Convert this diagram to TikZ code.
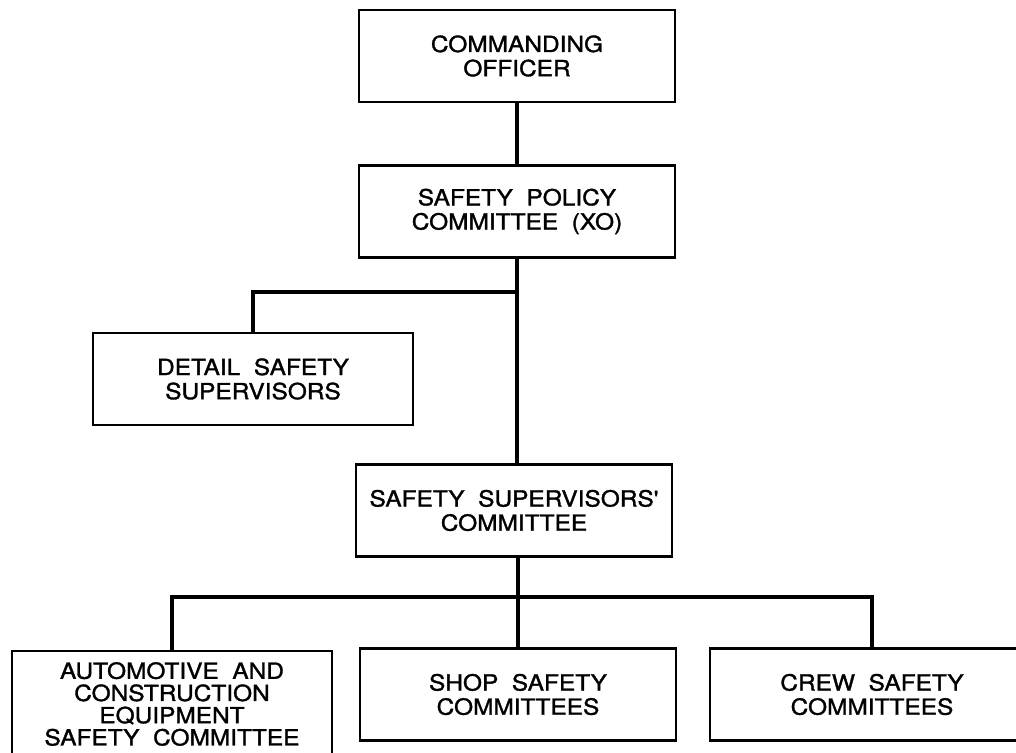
\documentclass[tikz,border=0pt]{standalone}
\usepackage{fontspec}
\newfontfamily\orgfont{TeX Gyre Heros}[FakeStretch=1.1,FakeBold=1.4]

\begin{document}
\begin{tikzpicture}
        [%%%%%%%%%%%%%%%%%%%%%%%%%%%%%%
        x=0.025cm, y=-0.025cm,
        box/.style={rectangle,draw=black,line width=1.5pt,align=center,
          minimum width=7.9cm,minimum height=2.3cm,inner sep=0pt,
          font=\orgfont\fontsize{15.8}{17.2}\selectfont},
        link/.style={draw=black,line width=2.3pt},
        ]%%%%%%%%%%%%%%%%%%%%%%%%%%%%%%
        \useasboundingbox (0,0) rectangle (1016,753);

        \node[box] (co)  at (517,56)    {COMMANDING\\OFFICER};
        \node[box] (spc) at (517,211.5) {SAFETY\ \ POLICY\\COMMITTEE\ \ (XO)};
        \node[box,minimum width=8cm] (dss) at (253,379) {DETAIL\ \ SAFETY\\SUPERVISORS};
        \node[box,minimum height=2.3cm] (ssc) at (514,510.5) {SAFETY\ \ SUPERVISORS'\\COMMITTEE};

        \node[box,minimum width=8cm,minimum height=2.65cm,
          font=\orgfont\fontsize{15.8}{15.8}\selectfont] (ace) at (172,704)
          {AUTOMOTIVE\ \ AND\\CONSTRUCTION\\EQUIPMENT\\SAFETY\ \ COMMITTEE};
        \node[box,minimum height=2.3cm] (ssh) at (518,694.5) {SHOP\ \ SAFETY\\COMMITTEES};
        \node[box,minimum width=8.1cm,minimum height=2.3cm] (csc) at (872,694.5) {CREW\ \ SAFETY\\COMMITTEES};

        \coordinate (j1) at (517,292);
        \coordinate (j2) at (518,597);

        \draw[link] (co.south) -- (spc.north);
        \draw[link] (spc.south) -- (spc.south |- ssc.north);
        \draw[link] (j1) -| (dss.north);
        \draw[link] (ssc.south -| j2) -- (ssh.north -| j2);
        \draw[link] (ace.north) |- (j2) -| (csc.north);
      \end{tikzpicture}
\end{document}
